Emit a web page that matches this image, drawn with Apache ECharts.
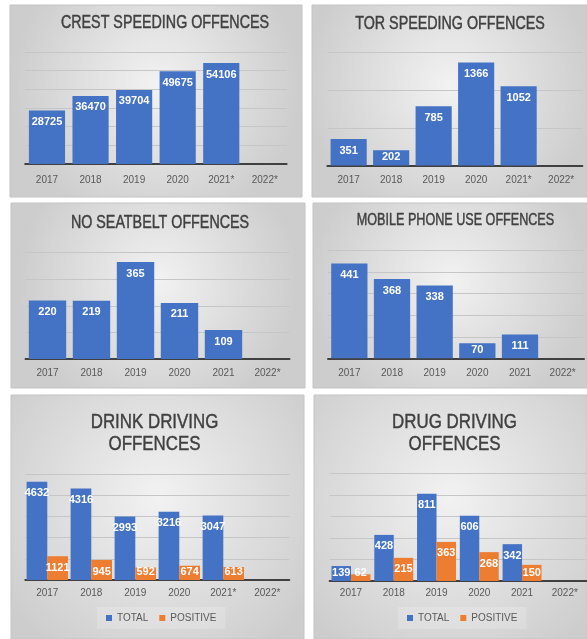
<!DOCTYPE html>
<html>
<head>
<meta charset="utf-8">
<script src="https://cdn.jsdelivr.net/npm/echarts@6.0.0/dist/echarts.min.js"></script>
<style>
html,body{margin:0;padding:0;background:#ffffff;}
#chart{width:587px;height:639px;}
</style>
</head>
<body>
<div id="chart"></div>
<script>
// ---------- DATA ----------
const crestYears = ['2017', '2018', '2019', '2020', '2021*', '2022*'];
const crestValues = [28725, 36470, 39704, 49675, 54106, null];

const torYears = ['2017', '2018', '2019', '2020', '2021*', '2022*'];
const torValues = [351, 202, 785, 1366, 1052, null];

const seatbeltYears = ['2017', '2018', '2019', '2020', '2021', '2022*'];
const seatbeltValues = [220, 219, 365, 211, 109, null];

const mobileYears = ['2017', '2018', '2019', '2020', '2021', '2022*'];
const mobileValues = [441, 368, 338, 70, 111, null];

const drinkYears = ['2017', '2018', '2019', '2020', '2021*', '2022*'];
const drinkTotal = [4632, 4316, 2993, 3216, 3047, null];
const drinkPositive = [1121, 945, 592, 674, 613, null];

const drugYears = ['2017', '2018', '2019', '2020', '2021', '2022*'];
const drugTotal = [139, 428, 811, 606, 342, null];
const drugPositive = [62, 215, 363, 268, 150, null];

const panelTitles = [
  'CREST SPEEDING OFFENCES',
  'TOR SPEEDING OFFENCES',
  'NO SEATBELT OFFENCES',
  'MOBILE PHONE USE OFFENCES',
  'DRINK DRIVING\nOFFENCES',
  'DRUG DRIVING\nOFFENCES'
];
const legendNames = ['TOTAL', 'POSITIVE'];
const yMax = [60000, 1500, 400, 500, 5000, 1000];
const yInterval = [10000, 500, 100, 100, 1000, 200];

// ---------- LAYOUT / STYLE ----------
const BLUE = '#4472C4';
const ORANGE = '#ED7D31';
const FONT = '"Liberation Sans", Arial, sans-serif';
const TITLE_FONT = '"Liberation Sans", Arial, sans-serif';

const panels = [
  {x: 10, y: 5, w: 292, h: 192},
  {x: 312, y: 5, w: 275, h: 192},
  {x: 11, y: 203, w: 294, h: 185},
  {x: 313, y: 203, w: 274, h: 185},
  {x: 11, y: 395, w: 293, h: 244},
  {x: 314, y: 395, w: 273, h: 244}
];
const titlePos = [
  {x: 165, y: 23.5, size: 14.3, lh: 18},
  {x: 450, y: 24, size: 14.3, lh: 18},
  {x: 160, y: 223.5, size: 14.3, lh: 18},
  {x: 455.5, y: 220.5, size: 12.6, lh: 16},
  {x: 154.5, y: 433, size: 16.9, lh: 18},
  {x: 454.5, y: 433, size: 16.9, lh: 18}
];
const TITLE_SCALE_Y = 1.25;
const grids = [
  {left: 25.2, top: 52, width: 261.4, height: 112},
  {left: 327.4, top: 52.5, width: 255, height: 113},
  {left: 25.5, top: 252.7, width: 264, height: 106.3},
  {left: 328, top: 250.7, width: 256, height: 107.6},
  {left: 25.3, top: 474, width: 264, height: 106},
  {left: 329.6, top: 473.3, width: 256.6, height: 107.7}
];
const labelMargins = [11, 10, 9, 9.5, 8, 7];
const categories = [crestYears, torYears, seatbeltYears, mobileYears, drinkYears, drugYears];

function barData(values, idx) {
  return values.map(function (v) {
    if (v == null) return null;
    const px = v / yMax[idx] * grids[idx].height;
    return px < 22 ? {value: v, label: {position: 'insideBottom', distance: 3}} : v;
  });
}

const barLabel = {
  show: true,
  position: 'insideTop',
  distance: 6,
  color: '#ffffff',
  fontWeight: 'bold',
  fontSize: 11,
  fontFamily: FONT
};

const graphics = [];
panels.forEach(function (p) {
  graphics.push({
    type: 'rect',
    z: -10,
    shape: {x: p.x, y: p.y, width: p.w, height: p.h},
    style: {
      fill: new echarts.graphic.RadialGradient(0.5, 0.42, 0.75, [
        {offset: 0, color: '#f2f2f2'},
        {offset: 1, color: '#cdcdcd'}
      ]),
      stroke: '#c4c4c4',
      lineWidth: 1
    },
    silent: true
  });
});
panelTitles.forEach(function (t, i) {
  const tp = titlePos[i];
  graphics.push({
    type: 'text',
    z: 5,
    x: tp.x,
    y: tp.y,
    scaleY: TITLE_SCALE_Y,
    style: {
      text: t,
      textAlign: 'center',
      textVerticalAlign: 'middle',
      fontSize: tp.size,
      lineHeight: tp.lh,
      fontFamily: TITLE_FONT,
      fill: '#404040',
      stroke: '#404040',
      lineWidth: 0.35
    },
    silent: true
  });
});

const xAxes = categories.map(function (cats, i) {
  return {
    type: 'category',
    gridIndex: i,
    data: cats,
    axisLine: {show: true, lineStyle: {color: '#404040', width: 2}},
    axisTick: {show: false},
    axisLabel: {color: '#595959', fontSize: 10, fontFamily: FONT, margin: labelMargins[i], interval: 0},
    splitLine: {show: false}
  };
});
const yAxes = yMax.map(function (m, i) {
  return {
    type: 'value',
    gridIndex: i,
    min: 0,
    max: m,
    interval: yInterval[i],
    axisLine: {show: false},
    axisTick: {show: false},
    axisLabel: {show: false},
    splitLine: {show: true, lineStyle: {color: '#c6c6c6', width: 1}}
  };
});

const singleSets = [crestValues, torValues, seatbeltValues, mobileValues];
const singleGaps = ['17%', '15%', '15%', '15%'];
const series = [];
singleSets.forEach(function (vals, i) {
  series.push({
    type: 'bar',
    name: panelTitles[i],
    xAxisIndex: i,
    yAxisIndex: i,
    data: barData(vals, i),
    barCategoryGap: singleGaps[i],
    itemStyle: {color: BLUE},
    label: barLabel
  });
});
[[drinkTotal, drinkPositive, 4, '6%'], [drugTotal, drugPositive, 5, '9%']].forEach(function (s) {
  series.push({
    type: 'bar', name: legendNames[0], xAxisIndex: s[2], yAxisIndex: s[2],
    data: barData(s[0], s[2]), barGap: '0%', barCategoryGap: s[3],
    itemStyle: {color: BLUE}, label: barLabel
  });
  series.push({
    type: 'bar', name: legendNames[1], xAxisIndex: s[2], yAxisIndex: s[2],
    data: barData(s[1], s[2]), barGap: '0%', barCategoryGap: s[3],
    itemStyle: {color: ORANGE}, label: barLabel
  });
});

const legendBase = {
  data: legendNames,
  icon: 'rect',
  itemWidth: 6,
  itemHeight: 6,
  itemGap: 11,
  padding: [6, 9],
  backgroundColor: 'rgba(255,255,255,0.18)',
  selectedMode: false,
  textStyle: {color: '#595959', fontSize: 10, fontFamily: FONT}
};

const chart = echarts.init(document.getElementById('chart'), null, {renderer: 'canvas'});
chart.setOption({
  animation: false,
  backgroundColor: '#ffffff',
  graphic: graphics,
  grid: grids.map(function (g) {
    return Object.assign({containLabel: false, outerBoundsMode: 'none'}, g);
  }),
  xAxis: xAxes,
  yAxis: yAxes,
  legend: [
    Object.assign({left: 97, top: 607}, legendBase),
    Object.assign({left: 398, top: 607}, legendBase)
  ],
  series: series
});
</script>
</body>
</html>
